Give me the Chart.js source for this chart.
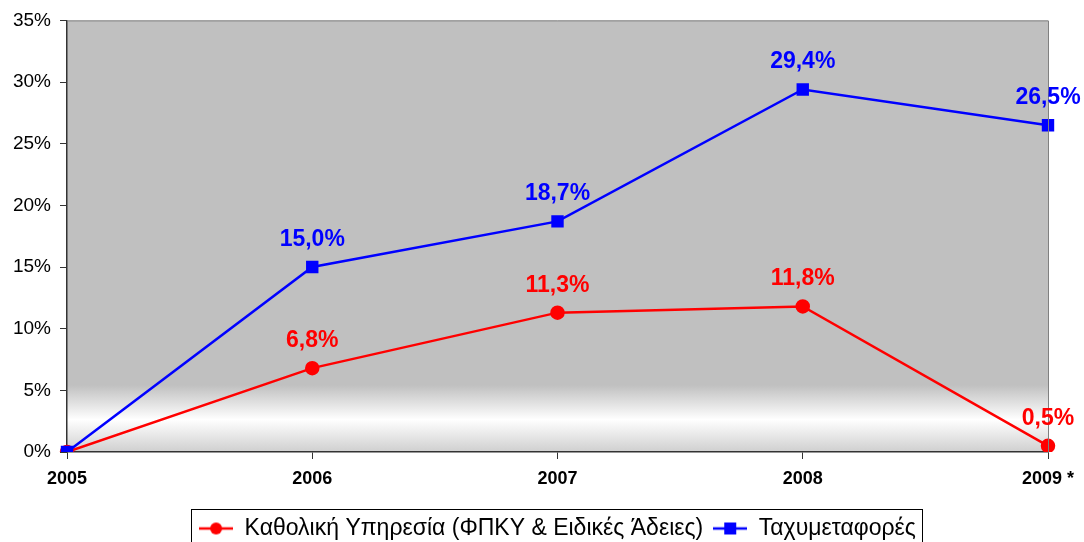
<!DOCTYPE html>
<html>
<head>
<meta charset="utf-8">
<script src="https://cdn.jsdelivr.net/npm/chart.js@4.4.0/dist/chart.umd.min.js"></script>
<style>
  html, body { margin: 0; padding: 0; background: #fff; }
  #wrap { width: 1084px; height: 542px; }
</style>
</head>
<body>
<div id="wrap"><canvas id="chart" width="1084" height="542"></canvas></div>
<script>
// data
const years = ['2005', '2006', '2007', '2008', '2009 *'];
const universalService = [0, 6.8, 11.3, 11.8, 0.5];
const courier = [0, 15.0, 18.7, 29.4, 26.5];
const yTicks = [0, 5, 10, 15, 20, 25, 30, 35];

const seriesNames = ['Καθολική Υπηρεσία (ΦΠΚΥ & Ειδικές Άδειες)', 'Ταχυμεταφορές'];
const RED = '#ff0000';
const BLUE = '#0000ff';

// small canvas used as legend symbol: line with marker in the middle
function legendSymbol(color, shape) {
    const c = document.createElement('canvas');
    c.width = 34; c.height = 14;
    const g = c.getContext('2d');
    g.strokeStyle = color;
    g.lineWidth = 2.5;
    g.beginPath();
    g.moveTo(0, 7); g.lineTo(34, 7);
    g.stroke();
    g.fillStyle = color;
    if (shape === 'circle') {
        g.beginPath();
        g.arc(17, 7, 6, 0, Math.PI * 2);
        g.fill();
    } else {
        g.fillRect(11, 1, 12, 12);
    }
    return c;
}

// gray plot background fading to white near the bottom
const plotBackground = {
    id: 'plotBackground',
    beforeDraw(chart) {
        const { ctx, chartArea: a } = chart;
        const grad = ctx.createLinearGradient(0, a.top, 0, a.bottom);
        grad.addColorStop(0, '#c0c0c0');
        grad.addColorStop(0.845, '#c0c0c0');
        grad.addColorStop(0.925, '#ffffff');
        grad.addColorStop(1, '#cfcfcf');
        ctx.save();
        ctx.fillStyle = grad;
        ctx.fillRect(a.left, a.top, a.right - a.left, a.bottom - a.top);
        ctx.restore();
    },
    afterDatasetsDraw(chart) {
        const { ctx, chartArea: a } = chart;
        ctx.save();
        ctx.strokeStyle = '#808080';
        ctx.lineWidth = 1;
        ctx.beginPath();
        ctx.moveTo(a.left, a.top + 0.5);
        ctx.lineTo(a.right + 0.5, a.top + 0.5);
        ctx.lineTo(a.right + 0.5, a.bottom);
        ctx.stroke();
        ctx.restore();
    }
};

// percentage labels above the points
const valueLabels = {
    id: 'valueLabels',
    afterDatasetsDraw(chart) {
        const ctx = chart.ctx;
        ctx.save();
        ctx.font = 'bold 23px "Liberation Sans", Arial, sans-serif';
        ctx.textAlign = 'center';
        ctx.textBaseline = 'alphabetic';
        chart.data.datasets.forEach((ds, i) => {
            chart.getDatasetMeta(i).data.forEach((pt, j) => {
                const v = ds.data[j];
                if (v === 0) return;
                ctx.fillStyle = ds.borderColor;
                ctx.fillText(v.toFixed(1).replace('.', ',') + '%', pt.x, pt.y - 21);
            });
        });
        ctx.restore();
    }
};

// frame around the legend
const legendBox = {
    id: 'legendBox',
    afterDraw(chart) {
        const boxes = chart.legend.legendHitBoxes;
        if (!boxes || !boxes.length) return;
        const left = Math.min(...boxes.map(b => b.left)) - 8;
        const right = Math.max(...boxes.map(b => b.left + b.width)) + 6;
        const ctx = chart.ctx;
        ctx.save();
        ctx.strokeStyle = '#000';
        ctx.lineWidth = 1;
        ctx.strokeRect(Math.round(left) + 0.5, 509.5, Math.round(right - left), 40);
        ctx.restore();
    }
};

new Chart(document.getElementById('chart').getContext('2d'), {
    type: 'line',
    data: {
        labels: years,
        datasets: [{
            label: seriesNames[0],
            data: universalService,
            borderColor: RED,
            backgroundColor: RED,
            borderWidth: 2.5,
            pointStyle: 'circle',
            pointRadius: 6,
            pointHoverRadius: 6,
            tension: 0,
            order: 1
        }, {
            label: seriesNames[1],
            data: courier,
            borderColor: BLUE,
            backgroundColor: BLUE,
            borderWidth: 2.5,
            pointStyle: 'rect',
            pointRadius: 7,
            pointHoverRadius: 7,
            tension: 0,
            order: 0
        }]
    },
    options: {
        responsive: false,
        animation: false,
        layout: { padding: { left: 0, right: 36, top: 19, bottom: -8 } },
        plugins: {
            tooltip: { enabled: false },
            legend: {
                position: 'bottom',
                fullSize: false,
                labels: {
                    color: '#000',
                    font: { family: '"Liberation Sans", Arial, sans-serif', size: 23 },
                    usePointStyle: true,
                    pointStyleWidth: 34,
                    padding: 10,
                    generateLabels(chart) {
                        return chart.data.datasets.map((ds, i) => ({
                            text: ds.label,
                            pointStyle: legendSymbol(ds.borderColor, i === 0 ? 'circle' : 'rect'),
                            fillStyle: ds.borderColor,
                            strokeStyle: ds.borderColor,
                            lineWidth: 0,
                            fontColor: '#000',
                            datasetIndex: i,
                            hidden: false
                        }));
                    }
                }
            }
        },
        scales: {
            x: {
                offset: false,
                grid: {
                    offset: false,
                    drawOnChartArea: false,
                    drawTicks: true,
                    tickLength: 7,
                    color: '#333'
                },
                border: { color: '#333', width: 1.5 },
                ticks: {
                    color: '#000',
                    padding: 9,
                    maxRotation: 0,
                    font: { family: '"Liberation Sans", Arial, sans-serif', size: 18, weight: 'bold' }
                },
                afterFit(scale) { scale.height = 55; }
            },
            y: {
                min: 0,
                max: 35,
                afterBuildTicks(scale) { scale.ticks = yTicks.map(v => ({ value: v })); },
                grid: {
                    drawOnChartArea: false,
                    drawTicks: true,
                    tickLength: 7,
                    color: '#333'
                },
                border: { color: '#333', width: 1.5 },
                ticks: {
                    color: '#000',
                    padding: 9,
                    callback: v => v + '%',
                    font: { family: '"Liberation Sans", Arial, sans-serif', size: 19 }
                },
                afterFit(scale) { scale.width = 67; }
            }
        }
    },
    plugins: [plotBackground, valueLabels, legendBox]
});
</script>
</body>
</html>
